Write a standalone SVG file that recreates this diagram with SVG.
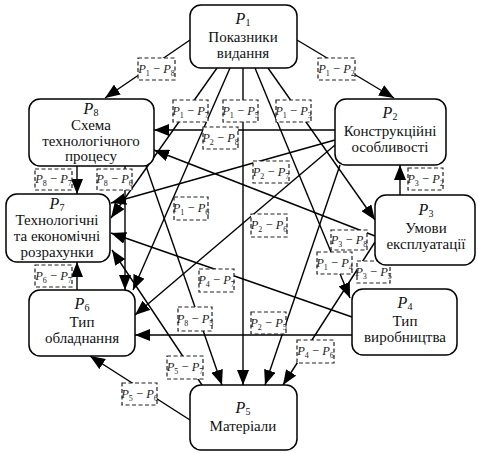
<svg xmlns="http://www.w3.org/2000/svg" width="478" height="453" viewBox="0 0 478 453">
<style>
.box{fill:#fff;stroke:#000;stroke-width:1.5}
.t{font-family:"Liberation Serif","Times New Roman",serif;font-size:15px;text-anchor:middle;fill:#111}
.pn{font-style:italic;font-size:16px}
.sn{font-size:10px}
.edge{stroke:#000;stroke-width:1.4;fill:none;marker-end:url(#ah)}
.lab rect{fill:#fff;stroke:#222;stroke-width:1.2;stroke-dasharray:4 2.5}
.lt{font-family:"Liberation Serif","Times New Roman",serif;font-size:12.5px;text-anchor:middle;fill:#222}
.li{font-style:italic}
.ls{font-size:8px}
</style>
<defs>
<marker id="ah" markerUnits="userSpaceOnUse" markerWidth="15" markerHeight="12" refX="15" refY="6" orient="auto">
<path d="M0,0 L15,6 L0,12 z" fill="#000"/>
</marker>
</defs>

<!-- directed links between the eight factors -->
<g id="connectors">
<line class="edge" x1="190" y1="40" x2="105" y2="98"/>
<line class="edge" x1="297" y1="40" x2="394" y2="98"/>
<line class="edge" x1="217" y1="68" x2="111" y2="218"/>
<line class="edge" x1="230" y1="68" x2="133" y2="290"/>
<line class="edge" x1="243" y1="68" x2="243" y2="385"/>
<line class="edge" x1="255" y1="68" x2="350" y2="298"/>
<line class="edge" x1="268" y1="68" x2="375" y2="220"/>
<line class="edge" x1="335" y1="130" x2="154" y2="130"/>
<line class="edge" x1="335" y1="140" x2="111" y2="203"/>
<line class="edge" x1="335" y1="145" x2="135" y2="315"/>
<line class="edge" x1="340" y1="165" x2="265" y2="385"/>
<line class="edge" x1="400" y1="195" x2="400" y2="165"/>
<line class="edge" x1="375" y1="236" x2="154" y2="150"/>
<line class="edge" x1="375" y1="242" x2="283" y2="385"/>
<line class="edge" x1="352" y1="317" x2="111" y2="233"/>
<line class="edge" x1="352" y1="335" x2="135" y2="335"/>
<line class="edge" x1="190" y1="420" x2="90" y2="356"/>
<line class="edge" x1="202" y1="385" x2="112" y2="250"/>
<line class="edge" x1="77" y1="290" x2="77" y2="262"/>
<line class="edge" x1="77" y1="166" x2="77" y2="194"/>
<line class="edge" x1="125" y1="166" x2="125" y2="290"/>
<line class="edge" x1="146" y1="166" x2="222" y2="385"/>
</g>

<!-- dashed link tags -->
<g id="labels">
<g class="lab"><rect x="138" y="58" width="37" height="22"/><text class="lt" x="156.5" y="73"><tspan class="li">P</tspan><tspan class="ls" dy="3">1</tspan><tspan dy="-3"> − </tspan><tspan class="li">P</tspan><tspan class="ls" dy="3">8</tspan></text></g>
<g class="lab"><rect x="318" y="58" width="37" height="22"/><text class="lt" x="336.5" y="73"><tspan class="li">P</tspan><tspan class="ls" dy="3">1</tspan><tspan dy="-3"> − </tspan><tspan class="li">P</tspan><tspan class="ls" dy="3">2</tspan></text></g>
<g class="lab"><rect x="173" y="100" width="35" height="22"/><text class="lt" x="190.5" y="115"><tspan class="li">P</tspan><tspan class="ls" dy="3">1</tspan><tspan dy="-3"> − </tspan><tspan class="li">P</tspan><tspan class="ls" dy="3">7</tspan></text></g>
<g class="lab"><rect x="223" y="100" width="35" height="22"/><text class="lt" x="240.5" y="115"><tspan class="li">P</tspan><tspan class="ls" dy="3">1</tspan><tspan dy="-3"> − </tspan><tspan class="li">P</tspan><tspan class="ls" dy="3">5</tspan></text></g>
<g class="lab"><rect x="276" y="100" width="35" height="22"/><text class="lt" x="293.5" y="115"><tspan class="li">P</tspan><tspan class="ls" dy="3">1</tspan><tspan dy="-3"> − </tspan><tspan class="li">P</tspan><tspan class="ls" dy="3">3</tspan></text></g>
<g class="lab"><rect x="203" y="127" width="35" height="22"/><text class="lt" x="220.5" y="142"><tspan class="li">P</tspan><tspan class="ls" dy="3">2</tspan><tspan dy="-3"> − </tspan><tspan class="li">P</tspan><tspan class="ls" dy="3">8</tspan></text></g>
<g class="lab"><rect x="35" y="169" width="37" height="21"/><text class="lt" x="53.5" y="183"><tspan class="li">P</tspan><tspan class="ls" dy="3">8</tspan><tspan dy="-3"> − </tspan><tspan class="li">P</tspan><tspan class="ls" dy="3">7</tspan></text></g>
<g class="lab"><rect x="97" y="169" width="35" height="21"/><text class="lt" x="114.5" y="183"><tspan class="li">P</tspan><tspan class="ls" dy="3">8</tspan><tspan dy="-3"> − </tspan><tspan class="li">P</tspan><tspan class="ls" dy="3">6</tspan></text></g>
<g class="lab"><rect x="408" y="168" width="35" height="22"/><text class="lt" x="425.5" y="183"><tspan class="li">P</tspan><tspan class="ls" dy="3">3</tspan><tspan dy="-3"> − </tspan><tspan class="li">P</tspan><tspan class="ls" dy="3">2</tspan></text></g>
<g class="lab"><rect x="253" y="161" width="36" height="22"/><text class="lt" x="271" y="176"><tspan class="li">P</tspan><tspan class="ls" dy="3">2</tspan><tspan dy="-3"> − </tspan><tspan class="li">P</tspan><tspan class="ls" dy="3">7</tspan></text></g>
<g class="lab"><rect x="174" y="197" width="34" height="23"/><text class="lt" x="191" y="212"><tspan class="li">P</tspan><tspan class="ls" dy="3">1</tspan><tspan dy="-3"> − </tspan><tspan class="li">P</tspan><tspan class="ls" dy="3">6</tspan></text></g>
<g class="lab"><rect x="251" y="214" width="36" height="23"/><text class="lt" x="269" y="229"><tspan class="li">P</tspan><tspan class="ls" dy="3">2</tspan><tspan dy="-3"> − </tspan><tspan class="li">P</tspan><tspan class="ls" dy="3">6</tspan></text></g>
<g class="lab"><rect x="331" y="230" width="36" height="20"/><text class="lt" x="349" y="244"><tspan class="li">P</tspan><tspan class="ls" dy="3">3</tspan><tspan dy="-3"> − </tspan><tspan class="li">P</tspan><tspan class="ls" dy="3">8</tspan></text></g>
<g class="lab"><rect x="317" y="252" width="35" height="22"/><text class="lt" x="334.5" y="267"><tspan class="li">P</tspan><tspan class="ls" dy="3">1</tspan><tspan dy="-3"> − </tspan><tspan class="li">P</tspan><tspan class="ls" dy="3">4</tspan></text></g>
<g class="lab"><rect x="357" y="261" width="33" height="22"/><text class="lt" x="373.5" y="276"><tspan class="li">P</tspan><tspan class="ls" dy="3">3</tspan><tspan dy="-3"> − </tspan><tspan class="li">P</tspan><tspan class="ls" dy="3">5</tspan></text></g>
<g class="lab"><rect x="199" y="269" width="35" height="23"/><text class="lt" x="216.5" y="284"><tspan class="li">P</tspan><tspan class="ls" dy="3">4</tspan><tspan dy="-3"> − </tspan><tspan class="li">P</tspan><tspan class="ls" dy="3">7</tspan></text></g>
<g class="lab"><rect x="35" y="265" width="37" height="22"/><text class="lt" x="53.5" y="280"><tspan class="li">P</tspan><tspan class="ls" dy="3">6</tspan><tspan dy="-3"> − </tspan><tspan class="li">P</tspan><tspan class="ls" dy="3">7</tspan></text></g>
<g class="lab"><rect x="178" y="307" width="34" height="24"/><text class="lt" x="195" y="323"><tspan class="li">P</tspan><tspan class="ls" dy="3">8</tspan><tspan dy="-3"> − </tspan><tspan class="li">P</tspan><tspan class="ls" dy="3">5</tspan></text></g>
<g class="lab"><rect x="251" y="312" width="35" height="22"/><text class="lt" x="268.5" y="327"><tspan class="li">P</tspan><tspan class="ls" dy="3">2</tspan><tspan dy="-3"> − </tspan><tspan class="li">P</tspan><tspan class="ls" dy="3">5</tspan></text></g>
<g class="lab"><rect x="297" y="340" width="37" height="23"/><text class="lt" x="315.5" y="355"><tspan class="li">P</tspan><tspan class="ls" dy="3">4</tspan><tspan dy="-3"> − </tspan><tspan class="li">P</tspan><tspan class="ls" dy="3">6</tspan></text></g>
<g class="lab"><rect x="167" y="356" width="36" height="23"/><text class="lt" x="185" y="371"><tspan class="li">P</tspan><tspan class="ls" dy="3">5</tspan><tspan dy="-3"> − </tspan><tspan class="li">P</tspan><tspan class="ls" dy="3">7</tspan></text></g>
<g class="lab"><rect x="122" y="383" width="35" height="22"/><text class="lt" x="139.5" y="398"><tspan class="li">P</tspan><tspan class="ls" dy="3">5</tspan><tspan dy="-3"> − </tspan><tspan class="li">P</tspan><tspan class="ls" dy="3">6</tspan></text></g>
</g>

<!-- factor nodes -->
<g id="P1"><rect class="box" x="190" y="5" width="107" height="63" rx="11"/>
<text class="t" x="243" y="24"><tspan class="pn">P</tspan><tspan class="sn" dy="2">1</tspan></text>
<text class="t" x="243" y="42">Показники</text><text class="t" x="243" y="58">видання</text></g>

<g id="P2"><rect class="box" x="335" y="99" width="111" height="66" rx="11"/>
<text class="t" x="390" y="118"><tspan class="pn">P</tspan><tspan class="sn" dy="2">2</tspan></text>
<text class="t" x="390" y="136">Конструкційні</text><text class="t" x="390" y="152">особливості</text></g>

<g id="P3"><rect class="box" x="375" y="195" width="100" height="70" rx="11"/>
<text class="t" x="426" y="215"><tspan class="pn">P</tspan><tspan class="sn" dy="2">3</tspan></text>
<text class="t" x="426" y="233">Умови</text><text class="t" x="426" y="249">експлуатації</text></g>

<g id="P4"><rect class="box" x="352" y="289" width="105" height="66" rx="11"/>
<text class="t" x="405" y="308"><tspan class="pn">P</tspan><tspan class="sn" dy="2">4</tspan></text>
<text class="t" x="405" y="326">Тип</text><text class="t" x="405" y="342">виробництва</text></g>

<g id="P5"><rect class="box" x="190" y="385" width="107" height="65" rx="11"/>
<text class="t" x="243" y="413"><tspan class="pn">P</tspan><tspan class="sn" dy="2">5</tspan></text>
<text class="t" x="243" y="431">Матеріали</text></g>

<g id="P6"><rect class="box" x="29" y="290" width="106" height="66" rx="11"/>
<text class="t" x="82" y="309"><tspan class="pn">P</tspan><tspan class="sn" dy="2">6</tspan></text>
<text class="t" x="82" y="327">Тип</text><text class="t" x="82" y="343">обладнання</text></g>

<g id="P7"><rect class="box" x="6" y="194" width="104" height="68" rx="11"/>
<text class="t" x="57" y="209"><tspan class="pn">P</tspan><tspan class="sn" dy="2">7</tspan></text>
<text class="t" x="57" y="225">Технологічні</text><text class="t" x="57" y="241">та економічні</text><text class="t" x="57" y="257">розрахунки</text></g>

<g id="P8"><rect class="box" x="29" y="99" width="125" height="67" rx="11"/>
<text class="t" x="91" y="114"><tspan class="pn">P</tspan><tspan class="sn" dy="2">8</tspan></text>
<text class="t" x="91" y="130">Схема</text><text class="t" x="91" y="146">технологічного</text><text class="t" x="91" y="161">процесу</text></g>
</svg>
